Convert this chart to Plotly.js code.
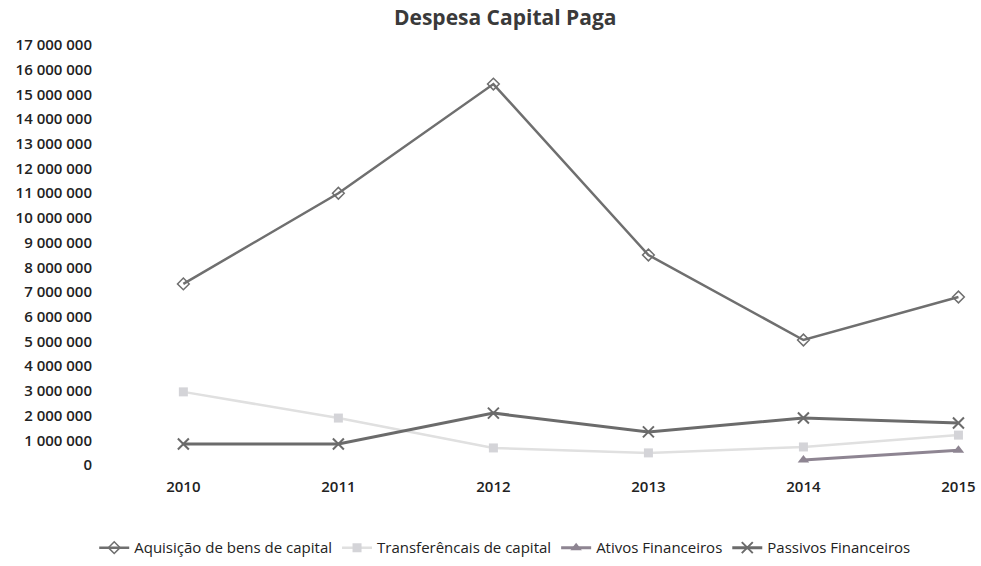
<!DOCTYPE html>
<html>
<head>
<meta charset="utf-8">
<script src="https://cdn.plot.ly/plotly-3.0.1.min.js"></script>
<style>html,body{margin:0;padding:0;background:#fff}#chart{width:981px;height:566px}</style>
</head>
<body>
<div id="chart"></div>
<script>
const years = ["2010", "2011", "2012", "2013", "2014", "2015"];
const aquisicao = [7330000, 11000000, 15420000, 8500000, 5060000, 6800000];
const transferencias = [2960000, 1900000, 690000, 490000, 730000, 1210000];
const ativosYears = ["2014", "2015"];
const ativos = [200000, 600000];
const passivos = [850000, 850000, 2100000, 1340000, 1900000, 1700000];

const idx = y => years.indexOf(y);

const traces = [
  {
    name: "Aquisição de bens de capital",
    x: years.map(idx), y: aquisicao, type: "scatter", mode: "lines+markers",
    line: {color: "#6f6f6f", width: 2.5},
    marker: {symbol: "diamond-open", size: 9, color: "#6f6f6f", line: {width: 1.5, color: "#6f6f6f"}},
    cliponaxis: false
  },
  {
    name: "Transferêncais de capital",
    x: years.map(idx), y: transferencias, type: "scatter", mode: "lines+markers",
    line: {color: "#e0e0e0", width: 2.5},
    marker: {symbol: "square", size: 9, color: "#d4d4d8"},
    cliponaxis: false
  },
  {
    name: "Ativos Financeiros",
    x: ativosYears.map(idx), y: ativos, type: "scatter", mode: "lines+markers",
    line: {color: "#8e8592", width: 3},
    marker: {symbol: "triangle-up", size: 10, color: "#8e8592"},
    cliponaxis: false
  },
  {
    name: "Passivos Financeiros",
    x: years.map(idx), y: passivos, type: "scatter", mode: "lines+markers",
    line: {color: "#6b6b6b", width: 3},
    marker: {symbol: "x-thin-open", size: 11, color: "#6b6b6b", line: {width: 2, color: "#6b6b6b"}},
    cliponaxis: false
  }
];

const layout = {
  width: 981, height: 566,
  paper_bgcolor: "#fff", plot_bgcolor: "#fff",
  separators: ", ",
  margin: {l: 95, r: 21, t: 45, b: 101},
  font: {family: "Open Sans, sans-serif", size: 15, color: "#333"},
  title: {
    text: "<b>Despesa Capital Paga</b>",
    font: {family: "Open Sans, sans-serif", size: 21, color: "#3a3a3a"},
    x: 0.515, xanchor: "center", xref: "container",
    y: 0.968, yanchor: "middle", yref: "container"
  },
  xaxis: {
    range: [-0.57, 5.01],
    tickmode: "array", tickvals: years.map(idx), ticktext: years,
    showgrid: false, zeroline: false, showline: false, ticks: "",
    ticklabelstandoff: 11,
    tickfont: {size: 15, color: "#222", weight: 600},
    fixedrange: true
  },
  yaxis: {
    range: [0, 17000000], dtick: 1000000, tick0: 0,
    tickformat: ",d",
    showgrid: false, zeroline: false, showline: false, ticks: "",
    tickfont: {size: 15, color: "#222", weight: 600},
    ticklabelstandoff: 2,
    fixedrange: true
  },
  showlegend: true,
  legend: {
    orientation: "h", xref: "container", yref: "container",
    x: 0.515, xanchor: "center", y: 0.032, yanchor: "middle",
    font: {size: 15, color: "#222"},
    itemwidth: 30, tracegroupgap: 0
  }
};

Plotly.newPlot("chart", traces, layout, {displayModeBar: false, staticPlot: true});
</script>
</body>
</html>
